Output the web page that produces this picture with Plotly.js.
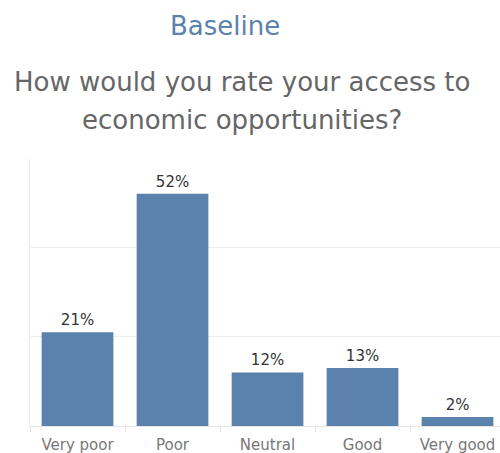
<!DOCTYPE html>
<html>
<head>
<meta charset="utf-8">
<script src="https://cdn.plot.ly/plotly-3.0.1.min.js"></script>
<style>html,body{margin:0;padding:0;background:#fff;}#chart{width:500px;height:453px;}</style>
</head>
<body>
<div id="chart"></div>
<script>
// Categories and values
var categories = ["Very poor", "Poor", "Neutral", "Good", "Very good"];
var percents = [21, 52, 12, 13, 2];
var pctLabels = ["21%", "52%", "12%", "13%", "2%"];

var barColor = "#5b82ad";
var fontFam = "DejaVu Sans, sans-serif";

var trace = {
  type: "bar",
  x: categories,
  y: percents,
  text: pctLabels,
  textposition: "outside",
  cliponaxis: false,
  textfont: {family: fontFam, size: 15, color: "#333333"},
  marker: {color: barColor},
  hoverinfo: "skip"
};

// plot area: x 30..500, y 158..426
function py(pix) { return (426 - pix) / 268; }
function px(pix) { return (pix - 30) / 470; }

var layout = {
  width: 500, height: 453,
  margin: {l: 30, r: 0, t: 158, b: 27},
  paper_bgcolor: "#ffffff",
  plot_bgcolor: "#ffffff",
  showlegend: false,
  bargap: 0.245,
  xaxis: {
    type: "category",
    range: [-0.5, 4.447],
    tickson: "boundaries",
    ticks: "outside",
    ticklen: 5,
    tickcolor: "#e6e6e6",
    ticklabelstandoff: 5,
    showline: true,
    linecolor: "#e6e6e6",
    showgrid: false,
    tickfont: {family: fontFam, size: 15, color: "#777777"},
    fixedrange: true
  },
  yaxis: {
    range: [0, 60],
    dtick: 20,
    showticklabels: false,
    showgrid: true,
    gridcolor: "#efefef",
    zeroline: false,
    showline: true,
    linecolor: "#efefef",
    ticks: "",
    fixedrange: true
  },
  annotations: [
    {text: "Baseline", xref: "paper", yref: "paper", x: px(225), y: py(26), xanchor: "center", yanchor: "middle", showarrow: false,
     font: {family: fontFam, size: 26, color: "#5b82ad"}},
    {text: "How would you rate your access to", xref: "paper", yref: "paper", x: px(242), y: py(82), xanchor: "center", yanchor: "middle", showarrow: false,
     font: {family: fontFam, size: 26, color: "#666666"}},
    {text: "economic opportunities?", xref: "paper", yref: "paper", x: px(242), y: py(120), xanchor: "center", yanchor: "middle", showarrow: false,
     font: {family: fontFam, size: 26, color: "#666666"}}
  ]
};

Plotly.newPlot("chart", [trace], layout, {displayModeBar: false, staticPlot: true});
</script>
</body>
</html>
